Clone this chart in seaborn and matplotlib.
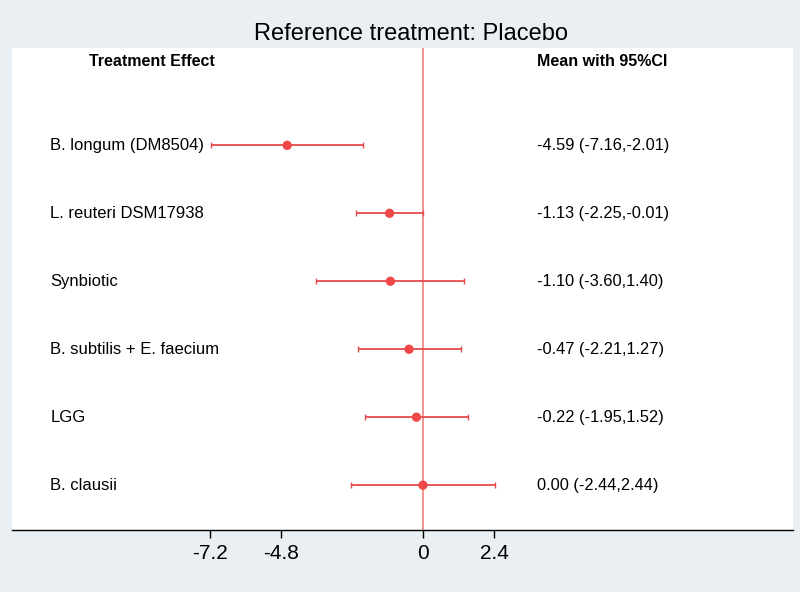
import matplotlib
matplotlib.use("Agg")
import matplotlib.pyplot as plt
import seaborn as sns
import pandas as pd

# data
treatments = ["B. longum (DM8504)", "L. reuteri DSM17938", "Synbiotic",
              "B. subtilis + E. faecium", "LGG", "B. clausii"]
means = [-4.59, -1.13, -1.10, -0.47, -0.22, 0.00]
lower = [-7.16, -2.25, -3.60, -2.21, -1.95, -2.44]
upper = [-2.01, -0.01, 1.40, 1.27, 1.52, 2.44]
ticks = [-7.2, -4.8, 0, 2.4]

df = pd.DataFrame({"treatment": treatments, "mean": means,
                   "lower": lower, "upper": upper})
df["row"] = list(range(len(df), 0, -1))

sns.set_theme(style="white")
plt.rcParams["font.family"] = ["Liberation Sans", "DejaVu Sans"]
plt.rcParams["text.color"] = "black"
plt.rcParams["xtick.color"] = "black"

bg = "#e9eff2"
red = "#e84a4c"

fig = plt.figure(figsize=(8, 5.92), dpi=100, facecolor=bg)
ax = fig.add_axes([0.015, 0.1047, 0.976, 0.814])
ax.set_facecolor("white")

# reference line at zero
ax.axvline(0, color="#f08a8a", lw=1.3, zorder=1)

# confidence intervals
ax.errorbar(df["mean"], df["row"],
            xerr=[df["mean"] - df["lower"], df["upper"] - df["mean"]],
            fmt="none", ecolor=red, elinewidth=1.3, capsize=2, capthick=1, zorder=2)
sns.scatterplot(data=df, x="mean", y="row", color="#f04848", s=45,
                edgecolor="none", zorder=3, ax=ax)

# text columns
for _, r in df.iterrows():
    ax.text(-12.6, r["row"], r["treatment"], va="center", ha="left",
            fontsize=12, color="black")
    ax.text(3.85, r["row"],
            f"{r['mean']:.2f} ({r['lower']:.2f},{r['upper']:.2f})",
            va="center", ha="left", fontsize=11.8, color="black")
ax.text(-11.3, 7.24, "Treatment Effect", va="center", ha="left",
        fontsize=11.5, fontweight="bold", color="black")
ax.text(3.85, 7.24, "Mean with 95%CI", va="center", ha="left",
        fontsize=11.5, fontweight="bold", color="black")

ax.set_xlim(-13.89, 12.5)
ax.set_ylim(0.34, 7.43)
ax.set_xticks(ticks)
ax.set_xticklabels(["-7.2", "-4.8", "0", "2.4"], fontsize=15, color="black")
ax.set_yticks([])
ax.set_xlabel("")
ax.set_ylabel("")
ax.tick_params(axis="x", direction="out", length=6, width=1, color="black",
               bottom=True, pad=4)
for side in ["top", "left", "right"]:
    ax.spines[side].set_visible(False)
ax.spines["bottom"].set_color("black")
ax.spines["bottom"].set_linewidth(1)

fig.text(0.514, 0.943, "Reference treatment: Placebo", ha="center", va="center",
         fontsize=17, color="black")

fig.savefig("out.png", dpi=100, facecolor=bg)
